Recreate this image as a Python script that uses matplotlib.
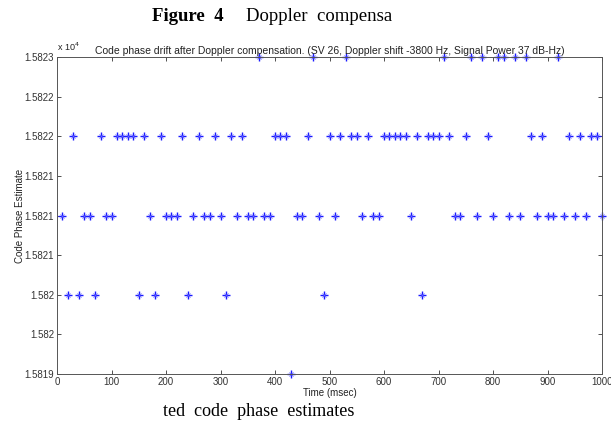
import matplotlib.pyplot as plt

# time (msec) of each estimate, grouped by code phase level
t_15823 = [370, 470, 530, 710, 760, 780, 810, 820, 840, 860, 920]
t_15822 = [30, 80, 110, 120, 130, 140, 160, 190, 230, 260, 290, 320, 340,
           400, 410, 420, 460, 500, 520, 540, 550, 570, 600, 610, 620, 630,
           640, 660, 680, 690, 700, 720, 750, 790, 870, 890, 940, 960, 980, 990]
t_15821 = [10, 50, 60, 90, 100, 170, 200, 210, 220, 250, 270, 280, 300, 330,
           350, 360, 380, 390, 440, 450, 480, 510, 560, 580, 590, 650, 730,
           740, 770, 800, 830, 850, 880, 900, 910, 930, 950, 970, 1000]
t_15820 = [20, 40, 70, 150, 180, 240, 310, 490, 670]
t_15819 = [430]

levels = {15823: t_15823, 15822: t_15822, 15821: t_15821,
          15820: t_15820, 15819: t_15819}

yticks = [15819, 15819.5, 15820, 15820.5, 15821, 15821.5, 15822, 15822.5, 15823]
ytick_labels = ["1.5819", "1.582", "1.582", "1.5821", "1.5821", "1.5821",
                "1.5822", "1.5822", "1.5823"]
xticks = [0, 100, 200, 300, 400, 500, 600, 700, 800, 900, 1000]

# merge into one time-ordered series
pts = sorted((t, v) for v, ts in levels.items() for t in ts)
time = [p[0] for p in pts]
phase = [p[1] for p in pts]

plt.rcParams['font.family'] = ['Liberation Sans', 'DejaVu Sans']

fig = plt.figure(figsize=(6.11, 4.29), dpi=100)
ax = fig.add_axes([0.0933, 0.128, 0.892, 0.739])

ax.plot(time, phase, linestyle='none', marker='+', markersize=6,
        markeredgewidth=1.0, color='#1a1aff', clip_on=False)
ax.plot(time, phase, linestyle='none', marker='x', markersize=3,
        markeredgewidth=0.6, color='#6666ff', clip_on=False)

ax.set_xlim(0, 1000)
ax.set_ylim(15819, 15823)
ax.set_xticks(xticks)
ax.set_yticks(yticks)
ax.set_yticklabels(ytick_labels)
ax.tick_params(direction='in', length=3, width=0.6, labelsize=7,
               top=True, right=True, colors='#333333', pad=2)
for s in ax.spines.values():
    s.set_linewidth(0.7)
    s.set_color('#555555')

ax.set_title("Code phase drift after Doppler compensation. (SV 26, Doppler shift "
             "-3800 Hz, Signal Power 37 dB-Hz)", fontsize=7.5, pad=2, color='#222222')
ax.set_xlabel("Time (msec)", fontsize=7, labelpad=1, color='#222222')
ax.set_ylabel("Code Phase Estimate", fontsize=7, labelpad=0, color='#222222')
ax.text(0.0, 1.012, r"x 10$^{4}$", transform=ax.transAxes, fontsize=6.5,
        ha='left', va='bottom', color='#222222')

fig.text(0.248, 0.962, "Figure  4", fontsize=13.5, fontweight='bold',
         family=['Liberation Serif', 'DejaVu Serif'], ha='left', va='center')
fig.text(0.402, 0.962, "Doppler  compensa", fontsize=13.5,
         family=['Liberation Serif', 'DejaVu Serif'], ha='left', va='center')
fig.text(0.267, 0.04, "ted  code  phase  estimates", fontsize=13,
         family=['Liberation Serif', 'DejaVu Serif'], ha='left', va='center')

fig.savefig("out.png", dpi=100)
